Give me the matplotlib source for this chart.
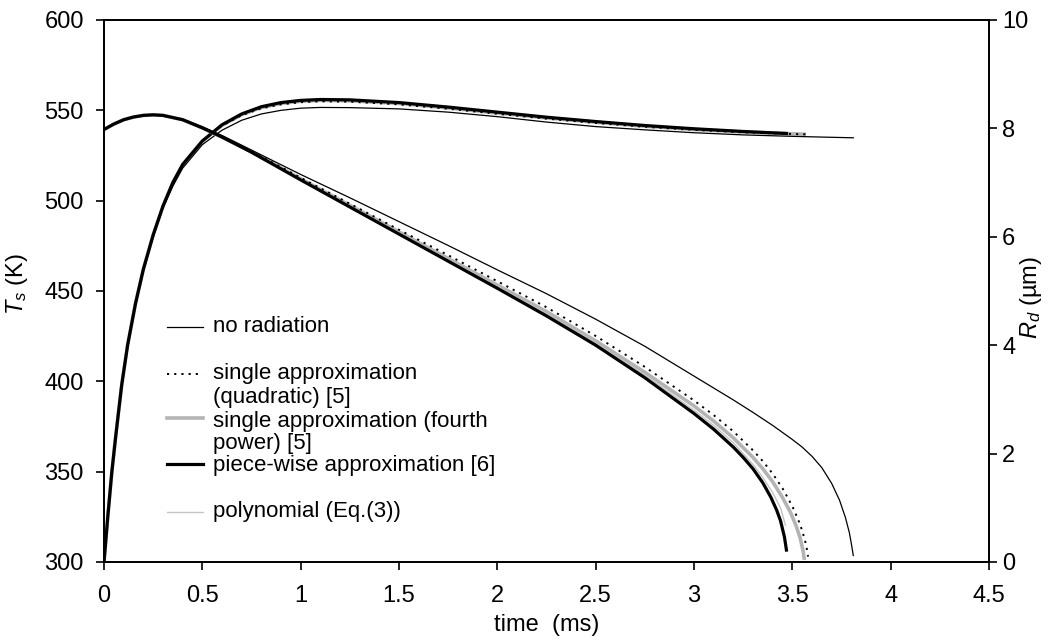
import matplotlib
matplotlib.use("Agg")
import matplotlib.pyplot as plt

plt.rcParams['font.family'] = ['Liberation Sans', 'DejaVu Sans']
plt.rcParams['mathtext.fontset'] = 'custom'
plt.rcParams['mathtext.rm'] = 'Liberation Sans'
plt.rcParams['mathtext.it'] = 'Liberation Sans:italic'
plt.rcParams['font.size'] = 16

# ---------------- data: droplet radius R_d (um) ----------------
t_R_norad = [0, 0.05, 0.1, 0.15, 0.2, 0.25, 0.3, 0.4, 0.5, 0.6, 0.75, 1.0, 1.25, 1.5, 1.75, 2.0, 2.25,
             2.5, 2.75, 3.0, 3.1, 3.2, 3.3, 3.4, 3.5, 3.55, 3.6, 3.65, 3.7, 3.74, 3.77, 3.79, 3.80, 3.81]
R_norad = [7.98, 8.08, 8.16, 8.21, 8.24, 8.25, 8.24, 8.17, 8.03, 7.87, 7.60, 7.15, 6.72, 6.28, 5.84, 5.39, 4.95,
           4.48, 3.98, 3.43, 3.21, 2.99, 2.76, 2.52, 2.26, 2.12, 1.95, 1.74, 1.45, 1.14, 0.82, 0.54, 0.34, 0.12]

t_R_quad = [0, 0.05, 0.1, 0.15, 0.2, 0.25, 0.3, 0.4, 0.5, 0.6, 0.75, 1.0, 1.25, 1.5, 1.75, 2.0, 2.25,
            2.5, 2.75, 3.0, 3.1, 3.2, 3.3, 3.35, 3.4, 3.45, 3.5, 3.53, 3.55, 3.57, 3.58]
R_quad = [7.98, 8.08, 8.16, 8.21, 8.24, 8.25, 8.24, 8.16, 8.02, 7.85, 7.58, 7.09, 6.61, 6.13, 5.66, 5.18, 4.70,
          4.17, 3.60, 2.98, 2.71, 2.41, 2.06, 1.86, 1.63, 1.36, 1.03, 0.78, 0.58, 0.32, 0.10]

t_R_fourth = [0, 0.05, 0.1, 0.15, 0.2, 0.25, 0.3, 0.4, 0.5, 0.6, 0.75, 1.0, 1.25, 1.5, 1.75, 2.0, 2.25,
              2.5, 2.75, 3.0, 3.1, 3.2, 3.3, 3.35, 3.4, 3.45, 3.49, 3.52, 3.54, 3.555, 3.56]
R_fourth = [7.98, 8.08, 8.16, 8.21, 8.24, 8.25, 8.24, 8.16, 8.01, 7.84, 7.57, 7.07, 6.58, 6.09, 5.60, 5.11, 4.62,
            4.08, 3.50, 2.88, 2.60, 2.29, 1.93, 1.72, 1.48, 1.19, 0.92, 0.66, 0.44, 0.20, 0.07]

t_R_piece = [0, 0.05, 0.1, 0.15, 0.2, 0.25, 0.3, 0.4, 0.5, 0.6, 0.75, 1.0, 1.25, 1.5, 1.75, 2.0, 2.25,
             2.5, 2.75, 3.0, 3.1, 3.2, 3.25, 3.3, 3.35, 3.39, 3.42, 3.44, 3.46, 3.47]
R_piece = [7.98, 8.08, 8.16, 8.21, 8.24, 8.25, 8.24, 8.16, 8.01, 7.84, 7.56, 7.05, 6.55, 6.05, 5.55, 5.05, 4.54,
           4.00, 3.40, 2.74, 2.45, 2.12, 1.93, 1.72, 1.46, 1.20, 0.96, 0.76, 0.46, 0.22]

t_R_poly = [0, 0.05, 0.1, 0.15, 0.2, 0.25, 0.3, 0.4, 0.5, 0.6, 0.75, 1.0, 1.25, 1.5, 1.75, 2.0, 2.25,
            2.5, 2.75, 3.0, 3.1, 3.2, 3.3, 3.35, 3.4, 3.44, 3.465]
R_poly = [7.98, 8.08, 8.16, 8.21, 8.24, 8.25, 8.24, 8.16, 8.01, 7.84, 7.57, 7.06, 6.57, 6.07, 5.58, 5.08, 4.58,
          4.04, 3.45, 2.80, 2.52, 2.20, 1.80, 1.56, 1.28, 1.00, 0.68]

# ---------------- data: surface temperature T_s (K) ----------------
t_T_common = [0, 0.01, 0.02, 0.04, 0.06, 0.09, 0.12, 0.16, 0.2, 0.25, 0.3, 0.35, 0.4, 0.5, 0.6, 0.7, 0.8,
              0.9, 1.0, 1.1, 1.25, 1.5, 1.75, 2.0, 2.25, 2.5, 2.75, 3.0, 3.25]
T_norad = [300, 313, 326, 350, 370, 397, 419, 442, 461, 480, 496, 508, 518, 531, 539, 544.5, 548, 550,
           551.2, 551.6, 551.5, 550.8, 549.0, 546.5, 543.5, 541.0, 539.2, 537.6, 536.4]
t_T_norad = t_T_common + [3.5, 3.65, 3.81]
T_norad = T_norad + [535.6, 535.2, 534.8]

T_piece = [300, 313, 326, 350, 370, 398, 420, 443, 462, 481, 497, 510, 520, 533, 542, 548, 552, 554.3,
           555.5, 556.0, 555.8, 554.3, 551.8, 549.0, 546.2, 543.8, 541.6, 539.8, 538.3]
t_T_piece = t_T_common + [3.47]
T_piece = T_piece + [537.2]

T_poly = [300, 313, 326, 350, 370, 398, 420, 443, 462, 481, 497, 510, 520, 533, 541.8, 547.8, 551.7, 554.0,
          555.2, 555.7, 555.5, 554.0, 551.5, 548.7, 546.0, 543.6, 541.4, 539.6, 538.1]
t_T_poly = t_T_common + [3.465]
T_poly = T_poly + [537.1]

T_fourth = [300, 313, 326, 350, 370, 398, 420, 443, 462, 481, 497, 510, 520, 533, 541.7, 547.6, 551.5, 553.8,
            555.0, 555.5, 555.3, 553.8, 551.3, 548.5, 545.8, 543.4, 541.2, 539.4, 538.0]
t_T_fourth = t_T_common + [3.5, 3.56]
T_fourth = T_fourth + [537.0, 536.8]

T_quad = [300, 313, 326, 350, 370, 398, 420, 443, 462, 481, 497, 510, 520, 533, 541.5, 547.3, 551.1, 553.3,
          554.5, 555.0, 554.8, 553.3, 550.9, 548.1, 545.4, 543.0, 540.9, 539.2, 537.8]
t_T_quad = t_T_common + [3.5, 3.58]
T_quad = T_quad + [536.9, 536.7]

x_ticks = [0, 0.5, 1, 1.5, 2, 2.5, 3, 3.5, 4, 4.5]
x_tick_labels = ['0', '0.5', '1', '1.5', '2', '2.5', '3', '3.5', '4', '4.5']
T_ticks = [300, 350, 400, 450, 500, 550, 600]
R_ticks = [0, 2, 4, 6, 8, 10]

legend_labels = ['no radiation', 'single approximation\n(quadratic) [5]',
                 'single approximation (fourth\npower) [5]', 'piece-wise approximation [6]',
                 'polynomial (Eq.(3))']

# ---------------- styles ----------------
st_norad = dict(color='black', lw=0.9, ls='-')
st_quad = dict(color='black', lw=1.4, ls=(0, (1.1, 2.6)))
st_fourth = dict(color='#b4b4b4', lw=2.6, ls='-')
st_piece = dict(color='black', lw=2.3, ls='-')
st_poly = dict(color='#c4c4c4', lw=1.0, ls='-')

W, H = 1049, 642
L, R, T, B = 104, 989, 20, 562
fig = plt.figure(figsize=(W / 100, H / 100), dpi=100)
ax = fig.add_axes([L / W, 1 - B / H, (R - L) / W, (B - T) / H])
ax2 = ax.twinx()

# temperatures
ax.plot(t_T_fourth, T_fourth, **st_fourth)
ax.plot(t_T_poly, T_poly, **st_poly)
ax.plot(t_T_quad, T_quad, **st_quad)
ax.plot(t_T_piece, T_piece, **st_piece)
ax.plot(t_T_norad, T_norad, **st_norad)

# radii
ax2.plot(t_R_fourth, R_fourth, **st_fourth)
ax2.plot(t_R_poly, R_poly, **st_poly)
ax2.plot(t_R_quad, R_quad, **st_quad)
ax2.plot(t_R_piece, R_piece, **st_piece)
ax2.plot(t_R_norad, R_norad, **st_norad)

ax.set_xlim(0, 4.5)
ax.set_ylim(300, 600)
ax2.set_ylim(0, 10)
ax.set_xticks(x_ticks)
ax.set_xticklabels(x_tick_labels)
ax.set_yticks(T_ticks)
ax2.set_yticks(R_ticks)

for a in (ax, ax2):
    for s in a.spines.values():
        s.set_linewidth(1.3)
    a.tick_params(direction='out', length=5.5, width=1.2, labelsize=17)
ax.tick_params(axis='x', pad=11)
ax.tick_params(axis='y', pad=9)
ax2.tick_params(axis='y', pad=4)

def xf(px):
    return (px - L) / (R - L)

def yf(py):
    return (B - py) / (B - T)

ax.set_xlabel('time  (ms)', fontsize=17)
ax.xaxis.set_label_coords(0.5, yf(625))
ax.xaxis.label.set_va('center')
ax.set_ylabel('$T_s$ (K)', fontsize=17)
ax.yaxis.set_label_coords(xf(17.5), yf(284))
ax.yaxis.label.set_va('center')
ax2.set_ylabel('$R_d$ (µm)', fontsize=17)
ax2.yaxis.set_label_coords(xf(1031), yf(297))
ax2.yaxis.label.set_va('center')

# manual legend (axes fraction coordinates)
hx0, hx1, tx = xf(167), xf(203), xf(213)
entries = [
    (st_norad, 327, [legend_labels[0]], [327]),
    (st_quad, 374, legend_labels[1].split('\n'), [374, 398]),
    (st_fourth, 418, legend_labels[2].split('\n'), [421, 444]),
    (st_piece, 464, [legend_labels[3]], [465]),
    (st_poly, 512, [legend_labels[4]], [512]),
]
for st, hy, lines, tys in entries:
    ax.plot([hx0, hx1], [yf(hy), yf(hy)], transform=ax.transAxes, clip_on=False, **st)
    for line, ty in zip(lines, tys):
        ax.text(tx, yf(ty), line, transform=ax.transAxes, va='center', ha='left', fontsize=16)

fig.savefig('out.png', dpi=100)
